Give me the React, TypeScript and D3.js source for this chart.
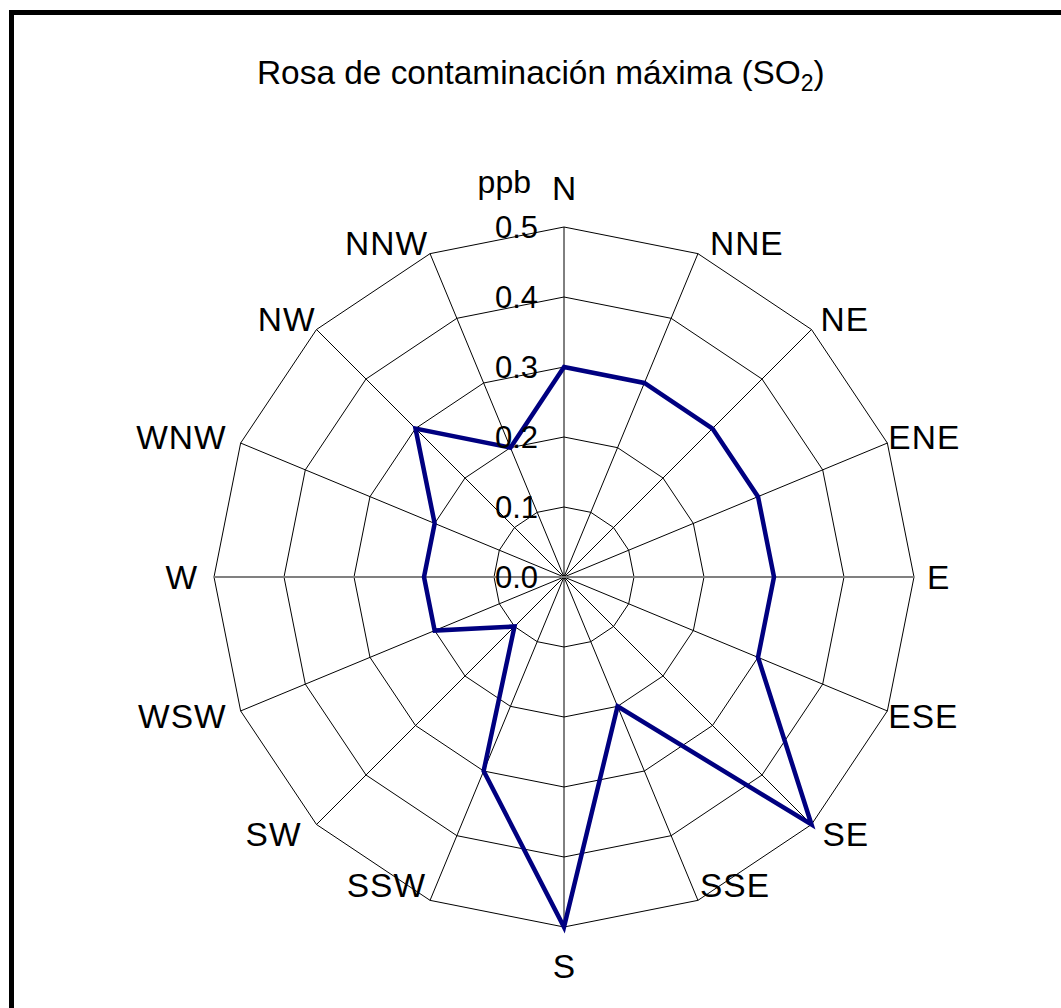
import React from "react";
import * as d3 from "d3";

const directions = ["N", "NNE", "NE", "ENE", "E", "ESE", "SE", "SSE", "S", "SSW", "SW", "WSW", "W", "WNW", "NW", "NNW"];
const maxValues = [0.3, 0.3, 0.3, 0.3, 0.3, 0.3, 0.5, 0.2, 0.5, 0.3, 0.1, 0.2, 0.2, 0.2, 0.3, 0.2];
const ticks = [0, 0.1, 0.2, 0.3, 0.4, 0.5];

const W = 1061;
const H = 1008;
const cx = 564;
const cy = 577;
const R = 350;
const FONT = "'Liberation Sans', Arial, Helvetica, sans-serif";
const LS = 1;

export default function App() {
  const r = d3.scaleLinear().domain([0, 0.5]).range([0, R]);
  const angle = d3
    .scaleLinear()
    .domain([0, directions.length])
    .range([0, 2 * Math.PI]);

  const pt = (i: number, v: number): [number, number] => {
    const a = angle(i);
    return [cx + r(v) * Math.sin(a), cy - r(v) * Math.cos(a)];
  };

  const ringPath = (v: number) =>
    d3.line<[number, number]>().curve(d3.curveLinearClosed)(directions.map((_, i) => pt(i, v))) || "";
  const dataPath =
    d3.line<[number, number]>().curve(d3.curveLinearClosed)(maxValues.map((v, i) => pt(i, v))) || "";

  const labelGap = (s: number, c: number) => {
    const as = Math.abs(s);
    if (s > 0) {
      if (as > 0.99) return 13;
      if (as > 0.9) return 1;
      if (as > 0.7) return c > 0 ? 9 : 11;
      return c > 0 ? 12 : 2;
    }
    if (as > 0.99) return 17;
    if (as > 0.9) return 15;
    if (as > 0.7) return c > 0 ? 2 : 16;
    return c > 0 ? 3 : 5;
  };

  return (
    <svg
      width={W}
      height={H}
      style={{ position: "absolute", left: 0, top: 0, background: "#fff" }}
      fontFamily={FONT}
    >
      <rect x={0} y={0} width={W} height={H} fill="#fff" />
      <rect x={11.5} y={12.5} width={1200} height={1200} fill="none" stroke="#000" strokeWidth={5} />

      <text x={257} y={84} fontSize={33.4} fill="#000">
        Rosa de contaminación máxima (SO
        <tspan fontSize={23} dy={7}>2</tspan>
        <tspan dy={-7}>)</tspan>
      </text>

      {ticks.slice(1).map((t) => (
        <path key={t} d={ringPath(t)} fill="none" stroke="#000" strokeWidth={1} />
      ))}

      {directions.map((d, i) => {
        if (i === 4 || i === 12) return null;
        const [x, y] = pt(i, 0.5);
        return <line key={d} x1={cx} y1={cy} x2={x} y2={y} stroke="#000" strokeWidth={1} />;
      })}
      <line x1={pt(12, 0.5)[0]} y1={cy} x2={pt(4, 0.5)[0]} y2={cy} stroke="#808080" strokeWidth={2} />

      <path d={dataPath} fill="none" stroke="#000080" strokeWidth={4.5} strokeLinejoin="miter" />

      {ticks.map((t) => (
        <text
          key={t}
          x={538}
          y={cy - r(t)}
          fontSize={31}
          textAnchor="end"
          dominantBaseline="central"
          fill="#000"
        >
          {t.toFixed(1)}
        </text>
      ))}
      <text x={531} y={193} fontSize={32} textAnchor="end" fill="#000">
        ppb
      </text>

      {directions.map((d, i) => {
        const a = angle(i);
        const s = Math.sin(a);
        const c = Math.cos(a);
        const [vx, vy] = pt(i, 0.5);
        let x = vx;
        let y = vy;
        let anchor: "start" | "end" | "middle" = "middle";
        if (Math.abs(s) < 0.01) {
          y = vy - c * 39;
          x = vx + LS / 2;
        } else {
          anchor = s > 0 ? "start" : "end";
          const g = labelGap(s, c);
          x = s > 0 ? vx + g : vx - g + LS;
          if (Math.abs(c) > 0.9) y = c > 0 ? vy - 10 : vy - 15;
          else if (Math.abs(c) > 0.3) y = vy - c * 14;
          else y = vy - c * 6;
        }
        return (
          <text
            key={d}
            x={x}
            y={y}
            fontSize={33.5}
            letterSpacing={LS}
            textAnchor={anchor}
            dominantBaseline="central"
            fill="#000"
          >
            {d}
          </text>
        );
      })}
    </svg>
  );
}
